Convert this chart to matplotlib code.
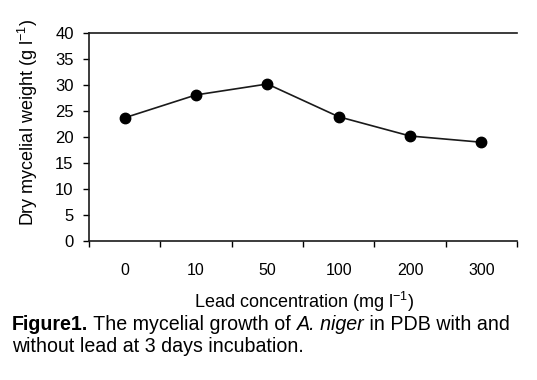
"""
Mycelial growth of A. niger vs lead concentration
"""
import matplotlib
matplotlib.use('Agg')
from matplotlib import pyplot as plt

plt.rcParams['font.family'] = 'Liberation Sans'
plt.rcParams['mathtext.fontset'] = 'custom'
plt.rcParams['mathtext.rm'] = 'Liberation Sans'
plt.rcParams['mathtext.it'] = 'Liberation Sans:italic'
plt.rcParams['mathtext.bf'] = 'Liberation Sans:bold'

concentrations = ['0', '10', '50', '100', '200', '300']
dry_weight = [23.7, 28.1, 30.2, 23.9, 20.2, 19.0]
y_ticks = [0, 5, 10, 15, 20, 25, 30, 35, 40]

fig = plt.figure(figsize=(5.37, 3.80), dpi=100)
ax = fig.add_axes([0.1657, 0.3658, 0.7971, 0.5472])

x = list(range(len(concentrations)))
ax.plot(x, dry_weight, color='#1a1a1a', linewidth=1.2,
        marker='o', markersize=7.5, markerfacecolor='black', markeredgecolor='black')

ax.set_xlim(-0.5, len(concentrations) - 0.5)
ax.set_ylim(0, 40)
ax.set_yticks(y_ticks)

# ticks sit between categories, labels at category centres
ax.set_xticks([i - 0.5 for i in range(len(concentrations) + 1)])
ax.set_xticklabels([])
ax.set_xticks(x, minor=True)
ax.set_xticklabels(concentrations, minor=True)
ax.tick_params(axis='x', which='minor', length=0, pad=16, labelsize=11.5)
ax.tick_params(axis='x', which='major', length=4, width=1, direction='out')
ax.tick_params(axis='y', length=4, width=1, direction='out', labelsize=12, pad=7)

for side in ['left', 'bottom', 'top']:
    ax.spines[side].set_linewidth(1.2)
    ax.spines[side].set_color('#1a1a1a')
ax.spines['right'].set_visible(False)

ax.set_ylabel(r"Dry mycelial weight (g l$^{-1}$)", fontsize=13)
ax.yaxis.set_label_coords(-0.1425, 0.572)
ax.yaxis.label.set_verticalalignment('center')
ax.set_xlabel(r"Lead concentration (mg l$^{-1}$)", fontsize=13)
ax.xaxis.set_label_coords(0.502, -0.293)
ax.xaxis.label.set_verticalalignment('center')

# caption, written piece by piece so the styles can change mid-line
cap_size = 14.1
fig.canvas.draw()
renderer = fig.canvas.get_renderer()
pieces = [("Figure1.", 'bold', 'normal'),
          (" The mycelial growth of ", 'normal', 'normal'),
          ("A. niger", 'normal', 'italic'),
          (" in PDB with and", 'normal', 'normal')]
x_px = 12
for txt, weight, style in pieces:
    t = fig.text(x_px / 537, 1 - 330 / 380, txt, fontsize=cap_size,
                 fontweight=weight, fontstyle=style, ha='left', va='baseline')
    x_px += t.get_window_extent(renderer).width
fig.text(12 / 537, 1 - 352 / 380, "without lead at 3 days incubation.",
         fontsize=cap_size, ha='left', va='baseline')

plt.savefig("out.png", dpi=100)
